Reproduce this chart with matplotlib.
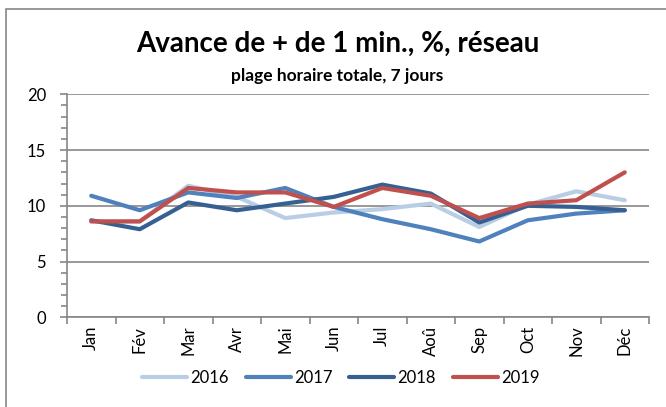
import matplotlib
matplotlib.use('Agg')
import matplotlib.pyplot as plt
from matplotlib.patches import Rectangle
from matplotlib.ticker import MultipleLocator

plt.rcParams['font.family'] = ['Lato', 'DejaVu Sans']

mois = ['Jan', 'Fév', 'Mar', 'Avr', 'Mai', 'Jun', 'Jul', 'Aoû', 'Sep', 'Oct', 'Nov', 'Déc']
v2016 = [8.6, 8.6, 11.8, 10.8, 8.9, 9.4, 9.7, 10.2, 8.1, 10.1, 11.3, 10.5]
v2017 = [10.9, 9.6, 11.2, 10.7, 11.6, 9.9, 8.8, 7.9, 6.8, 8.7, 9.3, 9.6]
v2018 = [8.7, 7.9, 10.3, 9.6, 10.2, 10.8, 11.9, 11.1, 8.5, 10.0, 9.9, 9.6]
v2019 = [8.6, 8.6, 11.6, 11.2, 11.2, 9.9, 11.6, 10.9, 8.9, 10.2, 10.5, 13.0]
annees = ['2016', '2017', '2018', '2019']
couleurs = ['#B9CDE5', '#4F81BD', '#376092', '#C0504D']

fig = plt.figure(figsize=(6.66, 4.07), dpi=100)
ax = fig.add_axes([0.1006, 0.2204, 0.8739, 0.5479])

x = range(len(mois))
for vals, nom, c in zip([v2016, v2017, v2018, v2019], annees, couleurs):
    ax.plot(x, vals, color=c, lw=3, label=nom, solid_capstyle='round')

gris = '#868686'
ax.set_xlim(-0.5, 11.5)
ax.set_ylim(0, 20)
ax.yaxis.set_major_locator(MultipleLocator(5))
ax.yaxis.set_minor_locator(MultipleLocator(1))
ax.grid(axis='y', which='major', color=gris, lw=1.2)
ax.set_axisbelow(True)
for s in ['top', 'right']:
    ax.spines[s].set_visible(False)
for s in ['left', 'bottom']:
    ax.spines[s].set_color(gris)
    ax.spines[s].set_linewidth(1.2)

ax.set_xticks(x)
ax.set_xticklabels(mois, rotation=90, fontsize=12)
ax.tick_params(axis='x', which='major', length=0, pad=6)
ax.set_xticks([i - 0.5 for i in range(13)], minor=True)
ax.tick_params(axis='x', which='minor', length=5, color=gris, width=1.2)
ax.tick_params(axis='y', which='major', length=5, color=gris, width=1.2, labelsize=12, pad=10)
ax.tick_params(axis='y', which='minor', length=4, color=gris, width=1.2)

fig.text(0.507, 0.892, 'Avance de + de 1 min., %, réseau', ha='center', va='center',
         fontsize=20, fontweight='bold')
fig.text(0.506, 0.813, 'plage horaire totale, 7 jours', ha='center', va='center',
         fontsize=12.5, fontweight='bold')

fig.legend(loc='center', bbox_to_anchor=(0.512, 0.071), ncol=4, frameon=False,
           fontsize=12, handlelength=2.7, columnspacing=1.0, handletextpad=0.2)

fig.patches.append(Rectangle((5.5 / 666, -0.1), 1.2, 1 - 9.5 / 407 + 0.1,
                             transform=fig.transFigure, fill=False,
                             edgecolor=gris, lw=1.2))

fig.savefig('out.png', dpi=100)
